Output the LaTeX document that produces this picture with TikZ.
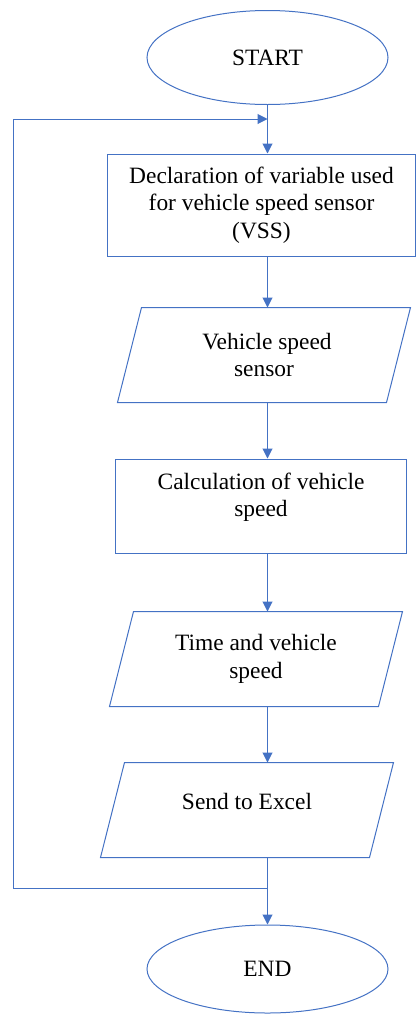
\documentclass[tikz,border=0pt]{standalone}
\usepackage{fontspec}
\setmainfont{Liberation Serif}
\usetikzlibrary{shapes.geometric,arrows.meta}
\definecolor{lineblue}{HTML}{4472C4}
\begin{document}
\begin{tikzpicture}[x=1bp, y=-1bp, line width=1bp,
      font=\fontsize{23.5}{27.5}\selectfont,
      arr/.style={draw=lineblue, -{Triangle[length=10bp,width=10bp]}},
      term/.style={draw=lineblue, ellipse, minimum width=241bp, minimum height=94bp},
      proc/.style={draw=lineblue, rectangle, align=center, inner sep=2bp},
      io/.style={rectangle, align=center, inner sep=2bp, minimum width=268bp, minimum height=94bp}]
    % pixel grid of the reference: x to the right, y downwards, 418 x 1015
    \useasboundingbox (0,0) rectangle (418,1015);
    \node[term] (start) at (267.5,57.5) {START};
    \node[proc, minimum width=307bp, minimum height=102bp] (decl) at (261.5,205)
      {Declaration of variable used\\for vehicle speed sensor\\(VSS)};
    \node[io] (sensor) at (264,355) {\hspace{6bp}Vehicle speed\\sensor};
    \node[proc, minimum width=290bp, minimum height=94bp, text depth=22bp] (calc) at (261,506)
      {Calculation of vehicle\\speed};
    \node[io] (timespd) at (256,659) {Time and vehicle\\speed};
    \node[io, text depth=17bp] (excel) at (247,810) {Send to Excel};
    \node[term, minimum height=88bp] (stop) at (267.5,969) {END};
    % input/output boxes: parallelograms leaning right, 12 px slant each side
    \foreach \n in {sensor,timespd,excel}
      \draw[lineblue] ([xshift=12bp]\n.north west) -- ([xshift=12bp]\n.north east)
        -- ([xshift=-12bp]\n.south east) -- ([xshift=-12bp]\n.south west) -- cycle;
    % loop back from the last step to the top
    \coordinate (join) at (267.5,119);
    \coordinate (back) at (267.5,888);
    \coordinate (left) at (13,888);
    \draw[arr] (start.south) -- (start.south |- decl.north);
    \draw[arr] (decl.south -| start) -- (sensor.north -| start);
    \draw[arr] (sensor.south -| start) -- (calc.north -| start);
    \draw[arr] (calc.south -| start) -- (timespd.north -| start);
    \draw[arr] (timespd.south -| start) -- (excel.north -| start);
    \draw[arr] (excel.south -| start) -- (stop.north);
    \draw[arr] (back) -- (left) |- (join);
  \end{tikzpicture}
\end{document}
